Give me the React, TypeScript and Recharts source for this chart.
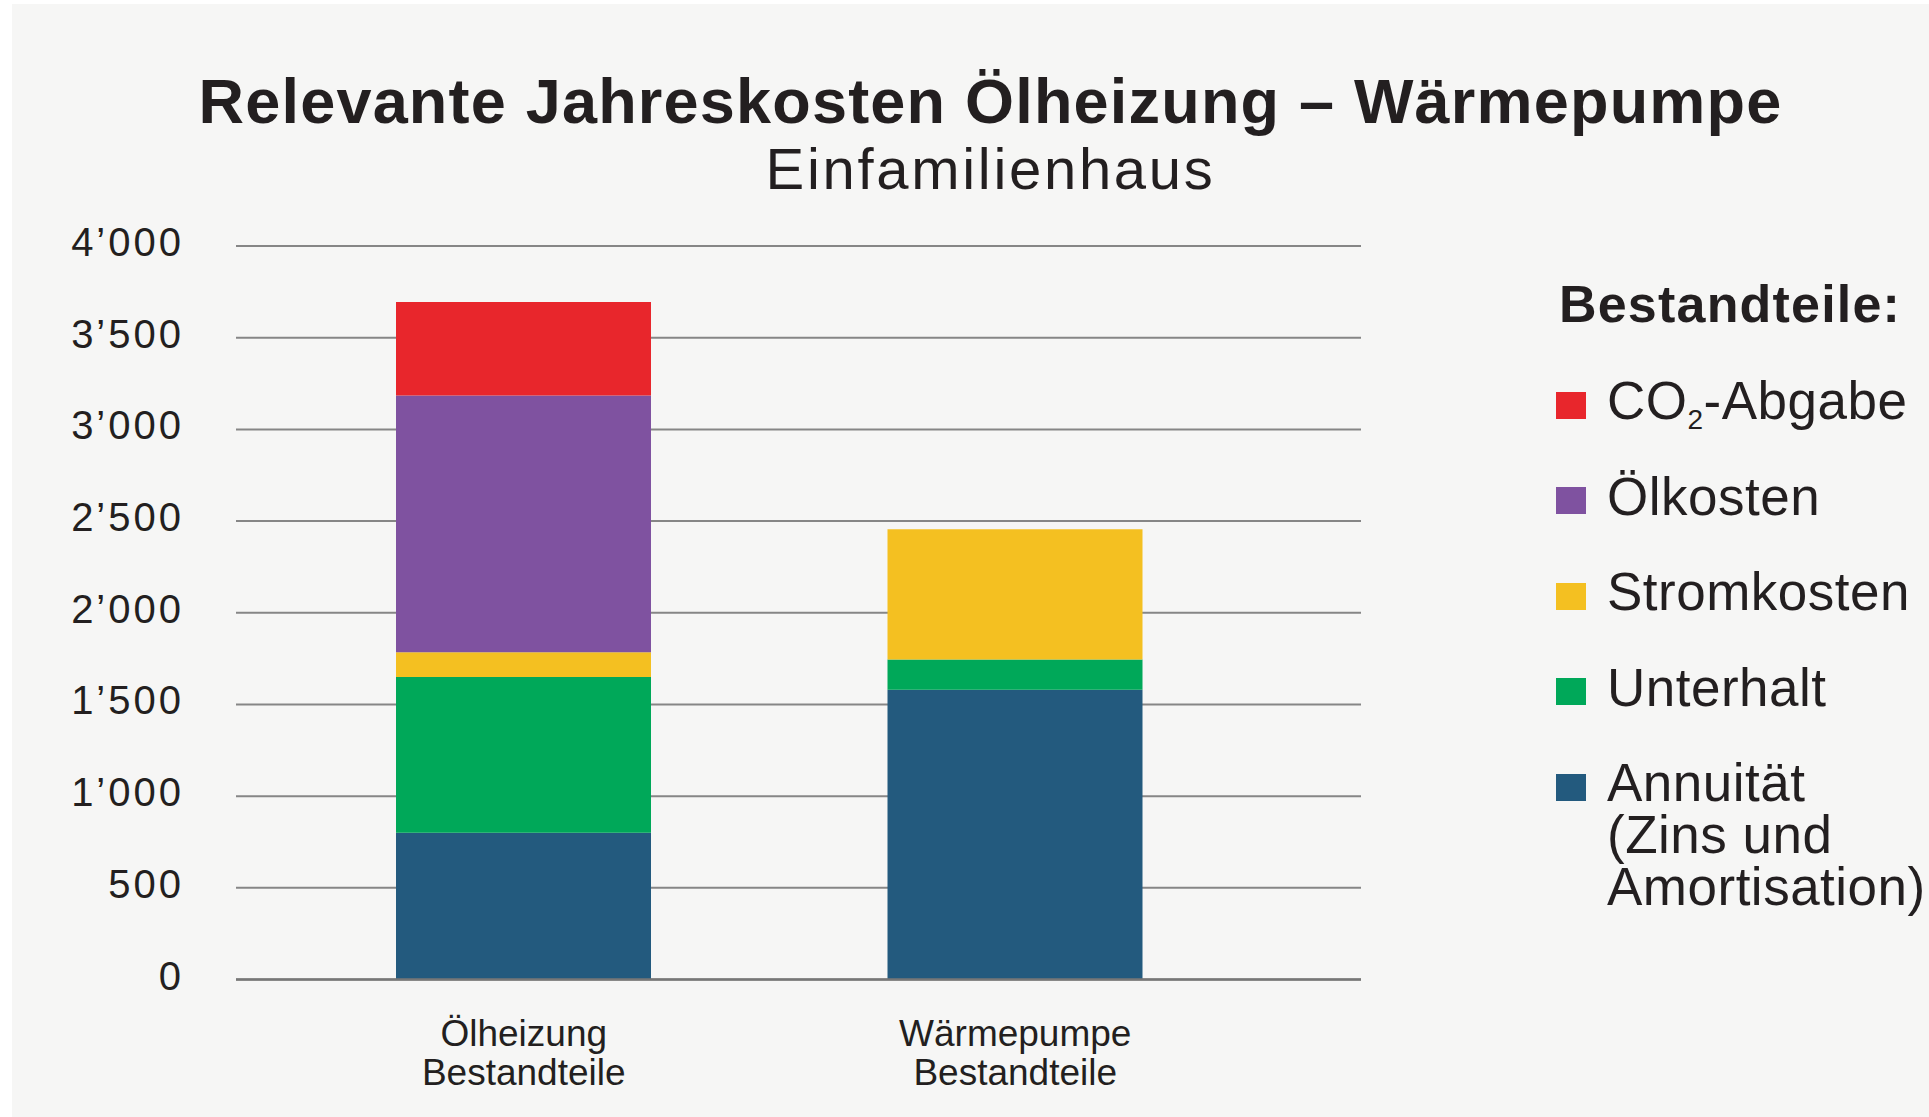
import { BarChart, Bar, XAxis, YAxis, CartesianGrid, Legend } from 'recharts';

// Jahreskosten (CHF) pro Bestandteil, gelesen aus der Vorlage
const categories = ['Ölheizung', 'Wärmepumpe'];
const categorySubLabel = 'Bestandteile';
const annuitaet = [800, 1580];
const unterhalt = [850, 165];
const stromkosten = [135, 710];
const oelkosten = [1400, 0];
const co2Abgabe = [510, 0];

const yTicks = [0, 500, 1000, 1500, 2000, 2500, 3000, 3500, 4000];
const yTickLabels = ['0', '500', '1’000', '1’500', '2’000', '2’500', '3’000', '3’500', '4’000'];

// stack order, bottom to top
const seriesKeys = ['annuitaet', 'unterhalt', 'stromkosten', 'oelkosten', 'co2'];
const seriesColors = ['#235a7e', '#00a859', '#f4c021', '#7f52a0', '#e8262c'];
// legend order, top to bottom
const legendKeys = ['co2', 'oelkosten', 'stromkosten', 'unterhalt', 'annuitaet'];

const FONT = '"Liberation Sans", Arial, Helvetica, sans-serif';
const TEXT = '#231f20';

const chartData = categories.map((name, i) => ({
  name,
  annuitaet: annuitaet[i],
  unterhalt: unterhalt[i],
  stromkosten: stromkosten[i],
  oelkosten: oelkosten[i],
  co2: co2Abgabe[i],
}));

const colorOf = (key: string) => seriesColors[seriesKeys.indexOf(key)];

const legendLines = (key: string) => {
  switch (key) {
    case 'co2':
      return [
        <span key="co2">
          CO<span style={{ fontSize: 28, position: 'relative', top: 10 }}>2</span>-Abgabe
        </span>,
      ];
    case 'oelkosten':
      return ['Ölkosten'];
    case 'stromkosten':
      return ['Stromkosten'];
    case 'unterhalt':
      return ['Unterhalt'];
    default:
      return ['Annuität', '(Zins und', 'Amortisation)'];
  }
};

const YTick = ({ y, payload }: any) => {
  const idx = yTicks.indexOf(payload.value);
  return (
    <text
      x={184}
      y={y + 10}
      textAnchor="end"
      fill={TEXT}
      style={{ fontFamily: FONT, fontSize: 40, letterSpacing: 3 }}
    >
      {yTickLabels[idx]}
    </text>
  );
};

const XTick = ({ x, y, payload }: any) => (
  <text
    x={x}
    textAnchor="middle"
    fill={TEXT}
    style={{ fontFamily: FONT, fontSize: 37 }}
  >
    <tspan x={x} y={y + 66}>{payload.value}</tspan>
    <tspan x={x} y={y + 105}>{categorySubLabel}</tspan>
  </text>
);

const LegendContent = () => (
  <div style={{ position: 'relative', width: 370, height: 700, fontFamily: FONT, color: TEXT }}>
    <div
      style={{
        position: 'absolute',
        left: 3,
        top: 278,
        fontSize: 52,
        lineHeight: '52px',
        fontWeight: 700,
        letterSpacing: 1.2,
        whiteSpace: 'nowrap',
      }}
    >
      Bestandteile:
    </div>
    {legendKeys.map((key, i) => (
      <div
        key={key}
        style={{
          position: 'absolute',
          left: 0,
          top: 379 + i * 95.5,
          display: 'flex',
          alignItems: 'flex-start',
          whiteSpace: 'nowrap',
        }}
      >
        <div style={{ width: 30, height: 27, marginTop: 12.5, background: colorOf(key), flex: 'none' }} />
        <div style={{ marginLeft: 21, marginTop: -4, fontSize: 53, letterSpacing: 0.5 }}>
          {legendLines(key).map((line, j) => (
            <div key={j} style={{ height: 52, lineHeight: '52px' }}>{line}</div>
          ))}
        </div>
      </div>
    ))}
  </div>
);

const App = () => {
  return (
    <div style={{ position: 'absolute', left: 0, top: 0, width: 1929, height: 1117, background: '#ffffff', overflow: 'hidden' }}>
      <div style={{ position: 'absolute', left: 12, top: 4, right: 0, bottom: 0, background: '#f6f6f5' }} />

      {/* Titel */}
      <div
        style={{
          position: 'absolute',
          left: 0,
          width: 1981,
          top: 70,
          textAlign: 'center',
          fontFamily: FONT,
          fontWeight: 700,
          fontSize: 63,
          lineHeight: '62px',
          letterSpacing: 1.2,
          color: TEXT,
          whiteSpace: 'nowrap',
        }}
      >
        Relevante Jahreskosten Ölheizung – Wärmepumpe
      </div>
      <div
        style={{
          position: 'absolute',
          left: 0,
          width: 1981,
          top: 140,
          textAlign: 'center',
          fontFamily: FONT,
          fontSize: 58,
          lineHeight: '58px',
          letterSpacing: 2.7,
          color: TEXT,
          whiteSpace: 'nowrap',
        }}
      >
        Einfamilienhaus
      </div>

      <div style={{ position: 'absolute', left: 0, top: 0 }}>
        <BarChart
          width={1929}
          height={1117}
          data={chartData}
          margin={{ top: 246, right: 568, bottom: 77.5, left: 176 }}
        >
          <CartesianGrid horizontal vertical={false} stroke="#868686" strokeWidth={2} />
          <XAxis
            dataKey="name"
            height={60}
            padding={{ left: 42, right: 100 }}
            tickLine={false}
            tickSize={0}
            tickMargin={0}
            axisLine={{ stroke: '#777777', strokeWidth: 2.5 }}
            tick={<XTick />}
            interval={0}
          />
          <YAxis
            width={60}
            domain={[0, 4000]}
            ticks={yTicks}
            axisLine={false}
            tickLine={false}
            tick={<YTick />}
            interval={0}
          />
          <Legend
            layout="vertical"
            align="center"
            verticalAlign="middle"
            wrapperStyle={{ position: 'absolute', left: 1556, top: 0, width: 370, height: 700 }}
            content={<LegendContent />}
          />
          {seriesKeys.map((key) => (
            <Bar
              key={key}
              dataKey={key}
              stackId="kosten"
              fill={colorOf(key)}
              barSize={255}
              isAnimationActive={false}
            />
          ))}
        </BarChart>
      </div>
    </div>
  );
};

export default App;
